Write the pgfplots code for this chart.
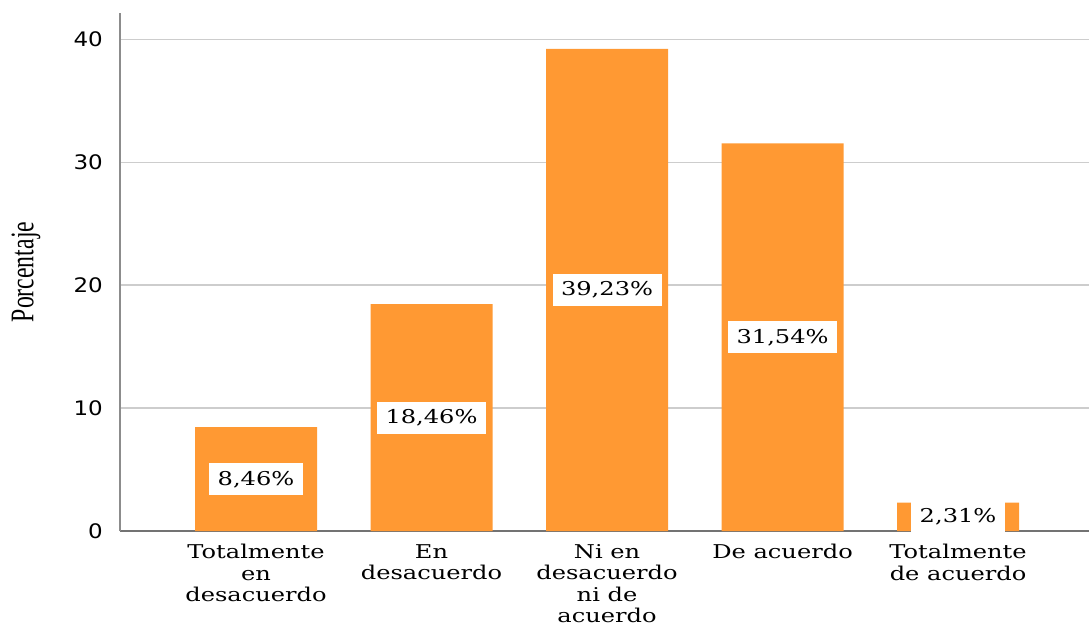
\documentclass[border=0pt]{standalone}
\usepackage{pgfplots}
\usepackage{pgfplotstable}
\usepackage{fontspec}
\pgfplotsset{compat=1.18}

\newfontfamily\tickfont[FakeStretch=1.15]{DejaVu Sans}
\newfontfamily\catfont[FakeStretch=1.27]{DejaVu Serif}
\newfontfamily\ylabfont[FakeStretch=0.72]{Liberation Serif}

\definecolor{barorange}{RGB}{255,153,51}
\definecolor{gridgray}{RGB}{205,205,205}
\definecolor{yaxisgray}{RGB}{140,140,140}
\definecolor{xaxisgray}{RGB}{115,115,115}

% Percentage of answers per category
\pgfplotstableread{
x v
0 8.46
1 18.46
2 39.23
3 31.54
4 2.31
}\datatable

\begin{document}
\begin{tikzpicture}
\path[use as bounding box] (-120pt,-95pt) rectangle (969pt,531pt);
\begin{axis}[
  at={(0pt,0pt)}, anchor=south west,
  scale only axis,
  width=969pt, height=518pt,
  xmin=-0.775, xmax=4.746,
  ymin=0, ymax=42.15,
  clip=false,
  axis x line=bottom, axis y line=left,
  x axis line style={-, draw=xaxisgray, line width=1.6pt},
  y axis line style={-, draw=yaxisgray, line width=2pt},
  ymajorgrids,
  grid style={draw=gridgray, line width=1.5pt},
  major tick length=0pt,
  ytick={0,10,20,30,40},
  xtick={0,1,2,3,4},
  xticklabels={Totalmente\\en\\desacuerdo, En\\desacuerdo, Ni en\\desacuerdo\\ni de\\acuerdo, De acuerdo, Totalmente\\de acuerdo},
  xticklabel style={font=\catfont\fontsize{19}{21.5}\selectfont, align=center, anchor=north, inner sep=0pt, yshift=-13pt},
  yticklabel style={font=\tickfont\fontsize{20}{24}\selectfont, anchor=east, inner sep=0pt, xshift=-17pt},
  /pgf/number format/assume math mode=true,
  ylabel={Porcentaje},
  ylabel style={font=\ylabfont\fontsize{33}{36}\selectfont, at={(axis description cs:0,0.5)}, anchor=center, rotate=0, yshift=94pt},
]
\addplot[ybar, bar shift=0pt, bar width=122pt, fill=barorange, draw=none]
  table[x=x, y=v] {\datatable};
% value labels, centred halfway up each bar
\addplot[draw=none, mark=none,
  nodes near coords={\pgfmathprintnumber[fixed,fixed zerofill,precision=2,use comma]{\pgfplotspointmeta}\%},
  point meta=explicit,
  every node near coord/.append style={anchor=center, fill=white, text=black,
    font=\catfont\fontsize{19}{21}\selectfont,
    inner xsep=8.5pt, inner ysep=8pt, text height=14pt, text depth=2pt}]
  table[x=x, y expr=\thisrow{v}/2, meta=v] {\datatable};
\end{axis}
\end{tikzpicture}
\end{document}
